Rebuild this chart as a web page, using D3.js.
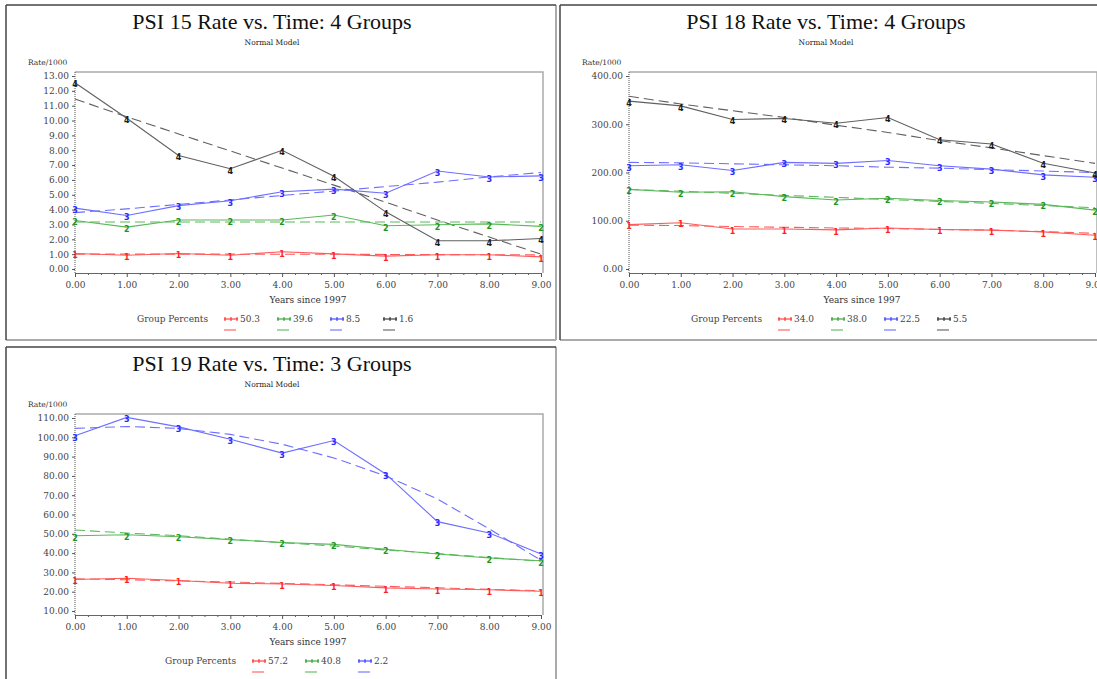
<!DOCTYPE html>
<html>
<head>
<meta charset="utf-8">
<script src="https://cdn.jsdelivr.net/npm/d3@7"></script>
<style>
  body { margin: 0; background: #fff; }
  svg { display: block; }
</style>
</head>
<body>
<svg id="chart" width="1097" height="679"></svg>
<script>
// x values shared by all three panels
const years = [0, 1, 2, 3, 4, 5, 6, 7, 8, 9];

// PSI 15 - 4 groups
const psi15Percents = ["50.3", "39.6", "8.5", "1.6"];
const psi15Ticks = [0, 1, 2, 3, 4, 5, 6, 7, 8, 9, 10, 11, 12, 13];
const psi15Obs = [
    [1.04, 0.93, 1.04, 0.93, 1.16, 1.02, 0.87, 0.96, 0.96, 0.82],
    [3.27, 2.82, 3.30, 3.30, 3.30, 3.64, 2.91, 2.98, 3.04, 2.87],
    [4.10, 3.60, 4.27, 4.60, 5.20, 5.38, 5.10, 6.60, 6.20, 6.27],
    [12.55, 10.15, 7.65, 6.75, 8.00, 6.25, 3.85, 1.90, 1.90, 2.05]
];
const psi15Fit = [
    [1.00, 1.00, 1.00, 1.00, 0.99, 0.99, 0.98, 0.97, 0.96, 0.95],
    [3.17, 3.17, 3.17, 3.17, 3.17, 3.17, 3.17, 3.17, 3.17, 3.17],
    [3.80, 4.05, 4.35, 4.65, 4.95, 5.25, 5.55, 5.85, 6.20, 6.50],
    [11.45, 10.25, 9.10, 7.95, 6.80, 5.65, 4.50, 3.30, 2.15, 1.00]
];

// PSI 18 - 4 groups
const psi18Percents = ["34.0", "38.0", "22.5", "5.5"];
const psi18Ticks = [0, 100, 200, 300, 400];
const psi18Obs = [
    [92, 96, 83, 83, 81, 85, 82, 80.5, 77, 70],
    [165, 159, 160, 150, 143, 146.5, 142, 139, 134, 122],
    [214, 216, 204, 221, 219, 225, 214, 207, 195, 190],
    [348, 338, 310, 312, 302, 314, 268, 259, 219, 199]
];
const psi18Fit = [
    [91, 90, 88, 86.5, 85, 84, 82, 80.5, 77.5, 74],
    [165, 161, 157, 152.5, 148.5, 144, 140, 136, 131.5, 127],
    [221, 220, 218, 216, 214, 211, 209, 206, 203, 200],
    [358, 342, 328, 314, 298, 283, 266, 251, 235, 219]
];

// PSI 19 - 3 groups
const psi19Percents = ["57.2", "40.8", "2.2"];
const psi19Ticks = [10, 20, 30, 40, 50, 60, 70, 80, 90, 100, 110];
const psi19Obs = [
    [26.3, 27.0, 25.8, 24.4, 24.0, 23.2, 22.0, 21.4, 21.0, 20.2],
    [49.0, 49.5, 48.5, 47.0, 45.5, 44.5, 42.0, 39.5, 37.5, 36.0],
    [100.8, 110.3, 105.4, 99.0, 91.8, 98.3, 81.0, 56.3, 50.4, 39.5]
];
const psi19Fit = [
    [26.7, 26.2, 25.6, 25.0, 24.3, 23.6, 22.8, 22.0, 21.2, 20.5],
    [52.0, 50.4, 49.0, 47.2, 45.4, 43.7, 41.6, 39.8, 37.7, 35.8],
    [104.6, 105.6, 104.6, 101.5, 96.4, 89.3, 80.0, 68.0, 52.5, 36.3]
];

const markColors = ["#ff1f1f", "#1c961c", "#2b2bff", "#1a1a1a"];
const lineColors = ["#ff5a5a", "#5ab85a", "#6e6eff", "#606060"];
const serif = "'DejaVu Serif', serif";

const svg = d3.select("#chart");

const panels = [
    { left: 6, top: 5, title: "PSI 15 Rate vs. Time: 4 Groups", ticks: psi15Ticks, obs: psi15Obs, fit: psi15Fit, percents: psi15Percents },
    { left: 560, top: 5, title: "PSI 18 Rate vs. Time: 4 Groups", ticks: psi18Ticks, obs: psi18Obs, fit: psi18Fit, percents: psi18Percents },
    { left: 6, top: 347, title: "PSI 19 Rate vs. Time: 3 Groups", ticks: psi19Ticks, obs: psi19Obs, fit: psi19Fit, percents: psi19Percents }
];

panels.forEach(drawPanel);

function drawPanel(p) {
    const L = p.left, T = p.top;
    const g = svg.append("g");

    // panel frame: dark top/left, light bottom/right
    g.append("line").attr("x1", L).attr("y1", T + 335).attr("x2", L + 550).attr("y2", T + 335)
        .attr("stroke", "#aaa").attr("stroke-width", 2);
    g.append("line").attr("x1", L + 550).attr("y1", T).attr("x2", L + 550).attr("y2", T + 335)
        .attr("stroke", "#aaa").attr("stroke-width", 2);
    g.append("line").attr("x1", L).attr("y1", T).attr("x2", L + 550).attr("y2", T)
        .attr("stroke", "#444").attr("stroke-width", 1.5);
    g.append("line").attr("x1", L).attr("y1", T).attr("x2", L).attr("y2", T + 335)
        .attr("stroke", "#444").attr("stroke-width", 1.5);

    // titles
    g.append("text").attr("x", L + 266).attr("y", T + 24).attr("text-anchor", "middle")
        .style("font-family", "'Liberation Serif', serif").style("font-size", "22px").attr("fill", "#111")
        .text(p.title);
    g.append("text").attr("x", L + 266).attr("y", T + 40).attr("text-anchor", "middle")
        .style("font-family", serif).style("font-size", "7.5px").attr("fill", "#222")
        .text("Normal Model");
    g.append("text").attr("x", L + 22).attr("y", T + 60)
        .style("font-family", serif).style("font-size", "7.5px").attr("fill", "#333")
        .text("Rate/1000");

    const x = d3.scaleLinear().domain([0, 9]).range([L + 69, L + 535]);
    const y = d3.scaleLinear().domain(d3.extent(p.ticks)).range([T + 264, T + 71]);

    // plot frame (top and right)
    g.append("path")
        .attr("d", `M${L + 69},${T + 67}H${L + 537}V${T + 268}`)
        .attr("fill", "none").attr("stroke", "#aaa").attr("stroke-width", 1.5);

    // y axis
    const yAxis = g.append("g").attr("transform", `translate(${L + 69},0)`)
        .call(d3.axisLeft(y).tickValues(p.ticks).tickFormat(d3.format(".2f")).tickSize(3).tickPadding(3));
    yAxis.select(".domain").remove();
    yAxis.append("line").attr("y1", T + 67).attr("y2", T + 268)
        .attr("stroke", "#555").attr("stroke-dasharray", "1,1");

    // x axis with minor ticks
    const minor = d3.range(0, 9.01, 0.25).filter(v => v % 1 !== 0);
    g.append("g").attr("transform", `translate(0,${T + 268})`)
        .call(d3.axisBottom(x).tickValues(minor).tickFormat("").tickSize(2))
        .select(".domain").remove();
    g.append("g").attr("transform", `translate(0,${T + 268})`)
        .call(d3.axisBottom(x).tickValues(years).tickFormat(d3.format(".2f")).tickSize(4).tickPadding(5));

    g.selectAll(".tick line").attr("stroke", "#555");
    g.selectAll(".domain").attr("stroke", "#666");
    g.selectAll(".tick text").style("font-family", serif).style("font-size", "9px").attr("fill", "#444");

    g.append("text").attr("x", L + 302).attr("y", T + 298).attr("text-anchor", "middle")
        .style("font-family", serif).style("font-size", "9px").attr("fill", "#333")
        .text("Years since 1997");

    // series: dashed fitted curves, then observed lines with group-number markers
    const line = d3.line().x((d, i) => x(years[i])).y(d => y(d));
    const plot = g.append("g");
    p.fit.forEach((vals, k) => {
        plot.append("path").datum(vals).attr("d", line)
            .attr("fill", "none").attr("stroke", lineColors[k]).attr("stroke-width", 1.1)
            .attr("stroke-dasharray", "10,5");
    });
    p.obs.forEach((vals, k) => {
        plot.append("path").datum(vals).attr("d", line)
            .attr("fill", "none").attr("stroke", lineColors[k]).attr("stroke-width", 1.1);
        plot.selectAll(null).data(vals).join("text")
            .attr("x", (d, i) => x(years[i]))
            .attr("y", d => y(d) + 2)
            .attr("dy", "0.35em")
            .attr("text-anchor", "middle")
            .style("font-family", "'DejaVu Sans', sans-serif").style("font-size", "8px").style("font-weight", "bold")
            .attr("fill", markColors[k])
            .text(String(k + 1));
    });

    // legend
    const n = p.percents.length;
    const start = L + 268 - (50 + 56 * n) / 2;
    const leg = g.append("g");
    leg.append("text").attr("x", start).attr("y", T + 317)
        .style("font-family", serif).style("font-size", "9px").attr("fill", "#444")
        .text("Group Percents");
    p.percents.forEach((pct, k) => {
        const ex = start + 87 + k * 53;
        leg.append("line").attr("x1", ex).attr("x2", ex + 14).attr("y1", T + 314).attr("y2", T + 314)
            .attr("stroke", markColors[k]).attr("stroke-width", 1);
        [1, 7, 13].forEach(o => {
            leg.append("line").attr("x1", ex + o).attr("x2", ex + o).attr("y1", T + 312).attr("y2", T + 316)
                .attr("stroke", markColors[k]).attr("stroke-width", 1);
        });
        leg.append("text").attr("x", ex + 16).attr("y", T + 317)
            .style("font-family", serif).style("font-size", "9px").attr("fill", "#444")
            .text(pct);
        leg.append("line").attr("x1", ex).attr("x2", ex + 12).attr("y1", T + 325).attr("y2", T + 325)
            .attr("stroke", lineColors[k]).attr("stroke-width", 1.1);
    });
}
</script>
</body>
</html>
